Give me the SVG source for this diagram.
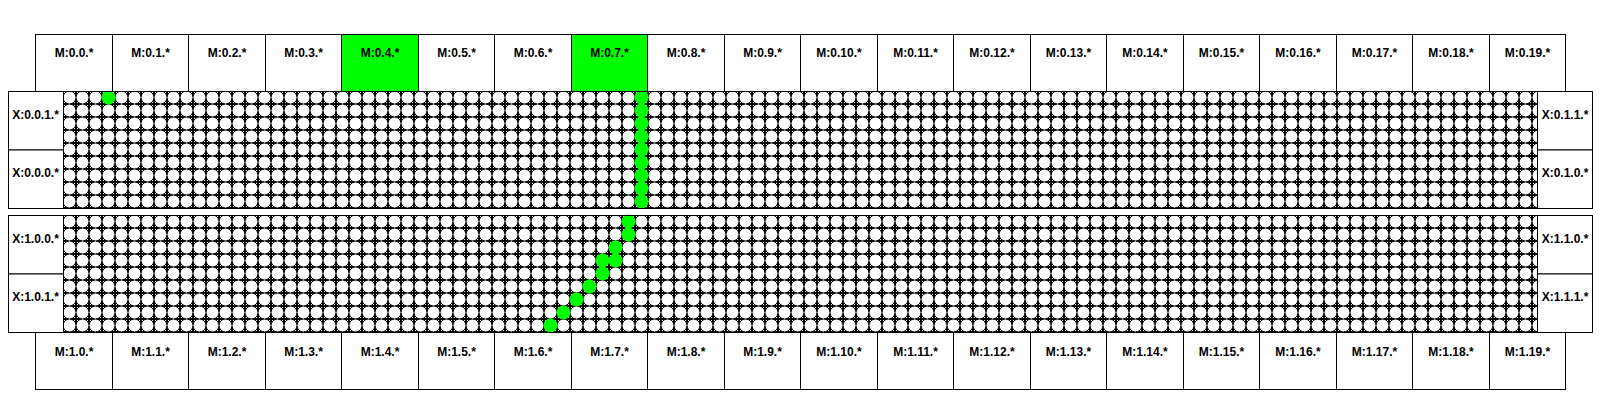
<svg xmlns="http://www.w3.org/2000/svg" width="1600" height="400" viewBox="0 0 1600 400">
<style>
.box{fill:#ffffff;stroke:#000000;stroke-width:1}
.hot{fill:#00ff00;stroke:#000000;stroke-width:1}
.lbl{font-family:"Liberation Sans",Arial,Helvetica,sans-serif;font-weight:bold;font-size:12px;fill:#000000;text-anchor:middle}
.mesh{fill:url(#cells);stroke:none}
.frame{fill:none;stroke:#000000;stroke-width:1}
.on{fill:#00ff00;stroke:none}
</style>
<defs>
<pattern id="cells" patternUnits="userSpaceOnUse" x="0" y="0" width="13" height="13">
<rect x="0" y="0" width="13" height="13" fill="#ffffff" stroke="#000000" stroke-width="2"/>
<circle cx="6.5" cy="6.5" r="6.5" fill="#ffffff" stroke="#000000" stroke-width="1"/>
</pattern>
</defs>
<rect x="0" y="0" width="1600" height="400" fill="#ffffff"/>

<g id="mesh-top" transform="translate(63,91)">
<rect class="mesh" x="0" y="0" width="1474" height="117"/>
<g id="path-top">
<circle class="on" cx="45.5" cy="6.5" r="7"/>
<circle class="on" cx="578.5" cy="6.5" r="7"/>
<circle class="on" cx="578.5" cy="19.5" r="7"/>
<circle class="on" cx="578.5" cy="32.5" r="7"/>
<circle class="on" cx="578.5" cy="45.5" r="7"/>
<circle class="on" cx="578.5" cy="58.5" r="7"/>
<circle class="on" cx="578.5" cy="71.5" r="7"/>
<circle class="on" cx="578.5" cy="84.5" r="7"/>
<circle class="on" cx="578.5" cy="97.5" r="7"/>
<circle class="on" cx="578.5" cy="110.5" r="7"/>
</g>
<rect class="frame" x="0.5" y="0.5" width="1474" height="117"/>
</g>

<g id="mesh-bottom" transform="translate(63,215)">
<rect class="mesh" x="0" y="0" width="1474" height="117"/>
<g id="path-bottom">
<circle class="on" cx="565.5" cy="6.5" r="7"/>
<circle class="on" cx="565.5" cy="19.5" r="7"/>
<circle class="on" cx="552.5" cy="32.5" r="7"/>
<circle class="on" cx="539.5" cy="45.5" r="7"/>
<circle class="on" cx="552.5" cy="45.5" r="7"/>
<circle class="on" cx="539.5" cy="58.5" r="7"/>
<circle class="on" cx="526.5" cy="71.5" r="7"/>
<circle class="on" cx="513.5" cy="84.5" r="7"/>
<circle class="on" cx="500.5" cy="97.5" r="7"/>
<circle class="on" cx="487.5" cy="110.5" r="7"/>
</g>
<rect class="frame" x="0.5" y="0.5" width="1474" height="117"/>
</g>

<g id="connectors"/>

<g id="x-0-0-1"><rect class="box" x="8.5" y="91.5" width="55" height="58.5"/><text class="lbl" x="35.5" y="118.5">X:0.0.1.*</text></g>
<g id="x-0-0-0"><rect class="box" x="8.5" y="150" width="55" height="58.5"/><text class="lbl" x="35.5" y="177">X:0.0.0.*</text></g>
<g id="x-1-0-0"><rect class="box" x="8.5" y="215.5" width="55" height="58.5"/><text class="lbl" x="35.5" y="242.5">X:1.0.0.*</text></g>
<g id="x-1-0-1"><rect class="box" x="8.5" y="274" width="55" height="58.5"/><text class="lbl" x="35.5" y="301">X:1.0.1.*</text></g>
<g id="x-0-1-1"><rect class="box" x="1537.5" y="91.5" width="55" height="58.5"/><text class="lbl" x="1565" y="118.5">X:0.1.1.*</text></g>
<g id="x-0-1-0"><rect class="box" x="1537.5" y="150" width="55" height="58.5"/><text class="lbl" x="1565" y="177">X:0.1.0.*</text></g>
<g id="x-1-1-0"><rect class="box" x="1537.5" y="215.5" width="55" height="58.5"/><text class="lbl" x="1565" y="242.5">X:1.1.0.*</text></g>
<g id="x-1-1-1"><rect class="box" x="1537.5" y="274" width="55" height="58.5"/><text class="lbl" x="1565" y="301">X:1.1.1.*</text></g>

<g id="m-0-0"><rect class="box" x="35.5" y="34.5" width="77" height="57"/><text class="lbl" x="74" y="57">M:0.0.*</text></g>
<g id="m-0-1"><rect class="box" x="112.5" y="34.5" width="76" height="57"/><text class="lbl" x="150.5" y="57">M:0.1.*</text></g>
<g id="m-0-2"><rect class="box" x="188.5" y="34.5" width="77" height="57"/><text class="lbl" x="227" y="57">M:0.2.*</text></g>
<g id="m-0-3"><rect class="box" x="265.5" y="34.5" width="76" height="57"/><text class="lbl" x="303.5" y="57">M:0.3.*</text></g>
<g id="m-0-4"><rect class="hot" x="341.5" y="34.5" width="77" height="57"/><text class="lbl" x="380" y="57">M:0.4.*</text></g>
<g id="m-0-5"><rect class="box" x="418.5" y="34.5" width="76" height="57"/><text class="lbl" x="456.5" y="57">M:0.5.*</text></g>
<g id="m-0-6"><rect class="box" x="494.5" y="34.5" width="77" height="57"/><text class="lbl" x="533" y="57">M:0.6.*</text></g>
<g id="m-0-7"><rect class="hot" x="571.5" y="34.5" width="76" height="57"/><text class="lbl" x="609.5" y="57">M:0.7.*</text></g>
<g id="m-0-8"><rect class="box" x="647.5" y="34.5" width="77" height="57"/><text class="lbl" x="686" y="57">M:0.8.*</text></g>
<g id="m-0-9"><rect class="box" x="724.5" y="34.5" width="76" height="57"/><text class="lbl" x="762.5" y="57">M:0.9.*</text></g>
<g id="m-0-10"><rect class="box" x="800.5" y="34.5" width="77" height="57"/><text class="lbl" x="839" y="57">M:0.10.*</text></g>
<g id="m-0-11"><rect class="box" x="877.5" y="34.5" width="76" height="57"/><text class="lbl" x="915.5" y="57">M:0.11.*</text></g>
<g id="m-0-12"><rect class="box" x="953.5" y="34.5" width="77" height="57"/><text class="lbl" x="992" y="57">M:0.12.*</text></g>
<g id="m-0-13"><rect class="box" x="1030.5" y="34.5" width="76" height="57"/><text class="lbl" x="1068.5" y="57">M:0.13.*</text></g>
<g id="m-0-14"><rect class="box" x="1106.5" y="34.5" width="77" height="57"/><text class="lbl" x="1145" y="57">M:0.14.*</text></g>
<g id="m-0-15"><rect class="box" x="1183.5" y="34.5" width="76" height="57"/><text class="lbl" x="1221.5" y="57">M:0.15.*</text></g>
<g id="m-0-16"><rect class="box" x="1259.5" y="34.5" width="77" height="57"/><text class="lbl" x="1298" y="57">M:0.16.*</text></g>
<g id="m-0-17"><rect class="box" x="1336.5" y="34.5" width="76" height="57"/><text class="lbl" x="1374.5" y="57">M:0.17.*</text></g>
<g id="m-0-18"><rect class="box" x="1412.5" y="34.5" width="77" height="57"/><text class="lbl" x="1451" y="57">M:0.18.*</text></g>
<g id="m-0-19"><rect class="box" x="1489.5" y="34.5" width="76" height="57"/><text class="lbl" x="1527.5" y="57">M:0.19.*</text></g>

<g id="m-1-0"><rect class="box" x="35.5" y="332.5" width="77" height="57"/><text class="lbl" x="74" y="356">M:1.0.*</text></g>
<g id="m-1-1"><rect class="box" x="112.5" y="332.5" width="76" height="57"/><text class="lbl" x="150.5" y="356">M:1.1.*</text></g>
<g id="m-1-2"><rect class="box" x="188.5" y="332.5" width="77" height="57"/><text class="lbl" x="227" y="356">M:1.2.*</text></g>
<g id="m-1-3"><rect class="box" x="265.5" y="332.5" width="76" height="57"/><text class="lbl" x="303.5" y="356">M:1.3.*</text></g>
<g id="m-1-4"><rect class="box" x="341.5" y="332.5" width="77" height="57"/><text class="lbl" x="380" y="356">M:1.4.*</text></g>
<g id="m-1-5"><rect class="box" x="418.5" y="332.5" width="76" height="57"/><text class="lbl" x="456.5" y="356">M:1.5.*</text></g>
<g id="m-1-6"><rect class="box" x="494.5" y="332.5" width="77" height="57"/><text class="lbl" x="533" y="356">M:1.6.*</text></g>
<g id="m-1-7"><rect class="box" x="571.5" y="332.5" width="76" height="57"/><text class="lbl" x="609.5" y="356">M:1.7.*</text></g>
<g id="m-1-8"><rect class="box" x="647.5" y="332.5" width="77" height="57"/><text class="lbl" x="686" y="356">M:1.8.*</text></g>
<g id="m-1-9"><rect class="box" x="724.5" y="332.5" width="76" height="57"/><text class="lbl" x="762.5" y="356">M:1.9.*</text></g>
<g id="m-1-10"><rect class="box" x="800.5" y="332.5" width="77" height="57"/><text class="lbl" x="839" y="356">M:1.10.*</text></g>
<g id="m-1-11"><rect class="box" x="877.5" y="332.5" width="76" height="57"/><text class="lbl" x="915.5" y="356">M:1.11.*</text></g>
<g id="m-1-12"><rect class="box" x="953.5" y="332.5" width="77" height="57"/><text class="lbl" x="992" y="356">M:1.12.*</text></g>
<g id="m-1-13"><rect class="box" x="1030.5" y="332.5" width="76" height="57"/><text class="lbl" x="1068.5" y="356">M:1.13.*</text></g>
<g id="m-1-14"><rect class="box" x="1106.5" y="332.5" width="77" height="57"/><text class="lbl" x="1145" y="356">M:1.14.*</text></g>
<g id="m-1-15"><rect class="box" x="1183.5" y="332.5" width="76" height="57"/><text class="lbl" x="1221.5" y="356">M:1.15.*</text></g>
<g id="m-1-16"><rect class="box" x="1259.5" y="332.5" width="77" height="57"/><text class="lbl" x="1298" y="356">M:1.16.*</text></g>
<g id="m-1-17"><rect class="box" x="1336.5" y="332.5" width="76" height="57"/><text class="lbl" x="1374.5" y="356">M:1.17.*</text></g>
<g id="m-1-18"><rect class="box" x="1412.5" y="332.5" width="77" height="57"/><text class="lbl" x="1451" y="356">M:1.18.*</text></g>
<g id="m-1-19"><rect class="box" x="1489.5" y="332.5" width="76" height="57"/><text class="lbl" x="1527.5" y="356">M:1.19.*</text></g>
</svg>
